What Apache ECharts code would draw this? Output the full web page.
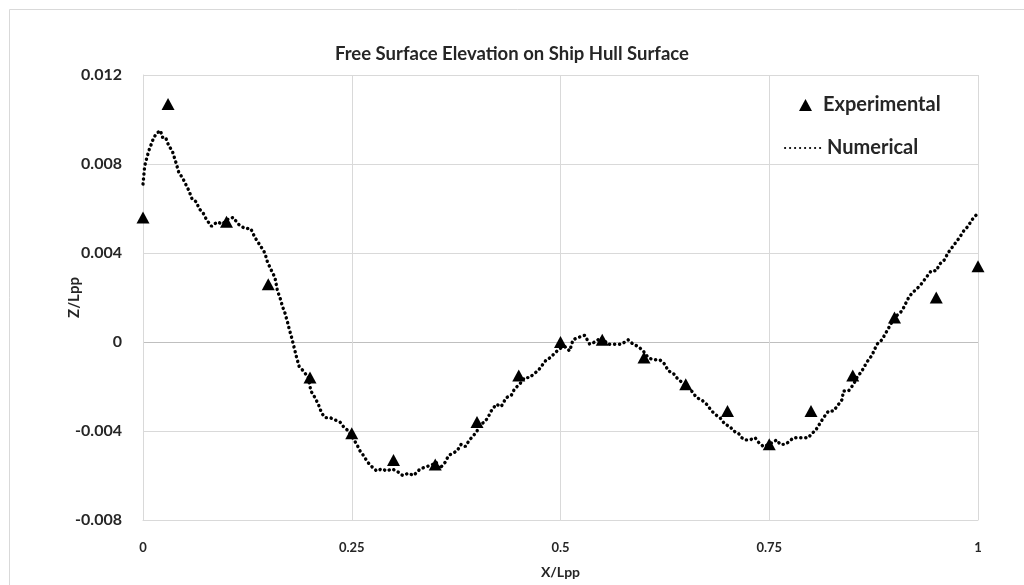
<!DOCTYPE html>
<html>
<head>
<meta charset="utf-8">
<script src="https://cdn.jsdelivr.net/npm/echarts@6/dist/echarts.min.js"></script>
<style>
  html, body { margin: 0; padding: 0; background: #fff; }
  #chart { width: 1024px; height: 585px; }
</style>
</head>
<body>
<div id="chart"></div>
<script>
// experimental points
const expX = [0, 0.03, 0.1, 0.15, 0.2, 0.25, 0.3, 0.35, 0.4, 0.45, 0.5, 0.55, 0.6, 0.65, 0.7, 0.75, 0.8, 0.85, 0.9, 0.95, 1.0];
const expY = [0.0056, 0.0107, 0.0054, 0.0026, -0.0016, -0.0041, -0.0053, -0.0055, -0.0036, -0.0015, 0.0000, 0.0001, -0.0007, -0.0019, -0.0031, -0.0046, -0.0031, -0.0015, 0.0011, 0.0020, 0.0034];

// numerical curve
const numX = [
    0.000, 0.002, 0.004, 0.007, 0.010, 0.013, 0.017, 0.021, 0.023, 0.027, 0.031, 0.035, 0.040, 0.043, 0.047,
    0.051, 0.055, 0.059, 0.064, 0.067, 0.072, 0.076, 0.082, 0.089, 0.095, 0.101, 0.108, 0.114, 0.122, 0.129,
    0.134, 0.141, 0.146, 0.149, 0.154, 0.158, 0.161, 0.164, 0.167, 0.170, 0.173, 0.175, 0.178, 0.180, 0.182,
    0.184, 0.187, 0.192, 0.198, 0.201, 0.206, 0.210, 0.214, 0.218, 0.224, 0.230, 0.236, 0.240, 0.246, 0.251,
    0.256, 0.260, 0.264, 0.269, 0.274, 0.280, 0.286, 0.292, 0.298, 0.304, 0.311, 0.318, 0.324, 0.332, 0.340,
    0.347, 0.351, 0.355, 0.362, 0.366, 0.371, 0.376, 0.381, 0.386, 0.391, 0.396, 0.400, 0.404, 0.409, 0.413,
    0.417, 0.423, 0.429, 0.435, 0.441, 0.445, 0.451, 0.457, 0.463, 0.469, 0.473, 0.479, 0.483, 0.488, 0.493,
    0.499, 0.505, 0.511, 0.515, 0.521, 0.529, 0.535, 0.541, 0.549, 0.557, 0.565, 0.573, 0.581, 0.587, 0.593,
    0.599, 0.605, 0.611, 0.619, 0.625, 0.629, 0.635, 0.639, 0.645, 0.651, 0.657, 0.663, 0.669, 0.675, 0.681,
    0.687, 0.691, 0.697, 0.703, 0.707, 0.713, 0.717, 0.721, 0.727, 0.733, 0.737, 0.743, 0.750, 0.759, 0.763,
    0.769, 0.773, 0.779, 0.785, 0.791, 0.797, 0.801, 0.805, 0.810, 0.815, 0.821, 0.827, 0.833, 0.837, 0.839,
    0.845, 0.851, 0.855, 0.861, 0.867, 0.873, 0.879, 0.885, 0.891, 0.897, 0.903, 0.909, 0.913, 0.917, 0.921,
    0.927, 0.932, 0.938, 0.944, 0.950, 0.954, 0.960, 0.964, 0.968, 0.974, 0.978, 0.983, 0.988, 0.993, 1.000
];
const numY = [
    0.0071, 0.0079, 0.0082, 0.0086, 0.0089, 0.0092, 0.0094, 0.0095, 0.0092, 0.0092, 0.0088, 0.0086, 0.0080, 0.0076, 0.0074,
    0.0071, 0.0068, 0.0064, 0.0063, 0.0060, 0.0058, 0.0055, 0.0052, 0.0054, 0.0053, 0.0055, 0.0056, 0.0053, 0.0051, 0.0051,
    0.0047, 0.0043, 0.0040, 0.0036, 0.0032, 0.0029, 0.0023, 0.0020, 0.0016, 0.0013, 0.0009, 0.0006, 0.0002, -0.0001, -0.0004,
    -0.0007, -0.0011, -0.0013, -0.0016, -0.0022, -0.0025, -0.0028, -0.0032, -0.0034, -0.0034, -0.0035, -0.0036, -0.0038, -0.0040, -0.0043,
    -0.0046, -0.0049, -0.0051, -0.0054, -0.0056, -0.0058, -0.0057, -0.0058, -0.0057, -0.0058, -0.0060, -0.0059, -0.0060, -0.0057, -0.0056,
    -0.0055, -0.0054, -0.0057, -0.0054, -0.0051, -0.0050, -0.0049, -0.0046, -0.0047, -0.0044, -0.0042, -0.0040, -0.0037, -0.0036, -0.0034,
    -0.0031, -0.0028, -0.0029, -0.0025, -0.0024, -0.0021, -0.0019, -0.0016, -0.0016, -0.0014, -0.0013, -0.0010, -0.0008, -0.0007, -0.0005,
    -0.0003, -0.0002, -0.0004, 0.0001, 0.0002, 0.0003, -0.0001, 0.0000, 0.0002, -0.0001, -0.0001, -0.0001, 0.0001, -0.0001, -0.0002,
    -0.0004, -0.0007, -0.0008, -0.0008, -0.0010, -0.0013, -0.0014, -0.0016, -0.0018, -0.0020, -0.0022, -0.0025, -0.0026, -0.0028, -0.0031,
    -0.0033, -0.0034, -0.0037, -0.0038, -0.0040, -0.0041, -0.0043, -0.0044, -0.0044, -0.0043, -0.0045, -0.0047, -0.0046, -0.0044, -0.0046,
    -0.0046, -0.0045, -0.0043, -0.0043, -0.0043, -0.0043, -0.0041, -0.0040, -0.0037, -0.0034, -0.0031, -0.0031, -0.0028, -0.0026, -0.0022,
    -0.0022, -0.0019, -0.0016, -0.0013, -0.0009, -0.0006, -0.0001, 0.0001, 0.0005, 0.0009, 0.0012, 0.0014, 0.0017, 0.0020, 0.0022,
    0.0024, 0.0026, 0.0029, 0.0032, 0.0032, 0.0035, 0.0037, 0.0040, 0.0042, 0.0045, 0.0047, 0.0050, 0.0052, 0.0055, 0.0058
];

const xTicks = [0, 0.25, 0.5, 0.75, 1];
const yTicks = [-0.008, -0.004, 0, 0.004, 0.008, 0.012];

const fontFamily = 'Lato, "Open Sans", sans-serif';
const textColor = '#262626';
const gridColor = '#d9d9d9';

const expData = expX.map((x, i) => [x, expY[i]]);
const numData = numX.map((x, i) => [x, numY[i]]);

const legendText = {
    fontFamily: fontFamily,
    fontSize: 20,
    fontWeight: 'bold',
    color: textColor
};

const chart = echarts.init(document.getElementById('chart'), null, { renderer: 'canvas' });
chart.setOption({
    backgroundColor: '#fff',
    animation: false,
    graphic: [
        {
            type: 'rect',
            shape: { x: 9.5, y: 9.5, width: 1030, height: 600 },
            style: { fill: 'none', stroke: '#d9d9d9', lineWidth: 1 },
            silent: true
        }
    ],
    title: {
        text: 'Free Surface Elevation on Ship Hull Surface',
        left: 'center',
        top: 40,
        textStyle: {
            fontFamily: fontFamily,
            fontSize: 18.5,
            fontWeight: 'bold',
            color: textColor
        }
    },
    legend: [
        {
            left: 794,
            top: 90,
            itemWidth: 13,
            itemHeight: 12,
            textStyle: Object.assign({ padding: [0, 0, 0, 6] }, legendText),
            data: [{ name: 'Experimental', icon: 'triangle' }]
        },
        {
            left: 779,
            top: 133,
            itemWidth: 37,
            itemHeight: 12,
            textStyle: legendText,
            data: [{ name: 'Numerical', itemStyle: { color: 'rgba(0,0,0,0)', borderWidth: 0 } }]
        }
    ],
    grid: {
        left: 143,
        right: 46,
        top: 75,
        bottom: 65
    },
    xAxis: {
        type: 'value',
        min: xTicks[0],
        max: xTicks[xTicks.length - 1],
        interval: 0.25,
        name: 'X/Lpp',
        nameLocation: 'middle',
        nameGap: 45,
        nameTextStyle: {
            fontFamily: fontFamily,
            fontSize: 14,
            fontWeight: 'bold',
            color: textColor
        },
        axisLine: { show: true, onZero: false, lineStyle: { color: gridColor } },
        axisTick: { show: false },
        axisLabel: {
            margin: 21,
            fontFamily: fontFamily,
            fontSize: 13,
            fontWeight: 'bold',
            color: textColor,
            formatter: (v) => String(+v.toFixed(2))
        },
        splitLine: { show: true, lineStyle: { color: gridColor, width: 1 } }
    },
    yAxis: {
        type: 'value',
        min: yTicks[0],
        max: yTicks[yTicks.length - 1],
        interval: 0.004,
        name: 'Z/Lpp',
        nameLocation: 'middle',
        nameGap: 61,
        nameMoveOverlap: false,
        nameTextStyle: {
            fontFamily: fontFamily,
            fontSize: 15,
            fontWeight: 'bold',
            color: textColor
        },
        axisLine: { show: true, lineStyle: { color: gridColor } },
        axisTick: { show: false },
        axisLabel: {
            margin: 21,
            fontFamily: fontFamily,
            fontSize: 16,
            fontWeight: 'bold',
            color: textColor,
            formatter: (v) => (Math.abs(v) < 1e-9 ? '0' : v.toFixed(3))
        },
        splitLine: {
            show: true,
            lineStyle: {
                color: [gridColor, gridColor, '#bfbfbf', gridColor, gridColor, gridColor],
                width: 1
            }
        }
    },
    series: [
        {
            name: 'Experimental',
            type: 'scatter',
            symbol: 'triangle',
            symbolSize: [13, 12],
            itemStyle: { color: '#000', opacity: 1 },
            data: expData,
            z: 3
        },
        {
            name: 'Numerical',
            type: 'line',
            showSymbol: false,
            symbol: 'none',
            smooth: false,
            data: numData,
            itemStyle: { color: '#000' },
            lineStyle: {
                color: '#000',
                width: 3.4,
                type: [0.2, 4.8],
                cap: 'round'
            },
            z: 2
        }
    ]
});
</script>
</body>
</html>
